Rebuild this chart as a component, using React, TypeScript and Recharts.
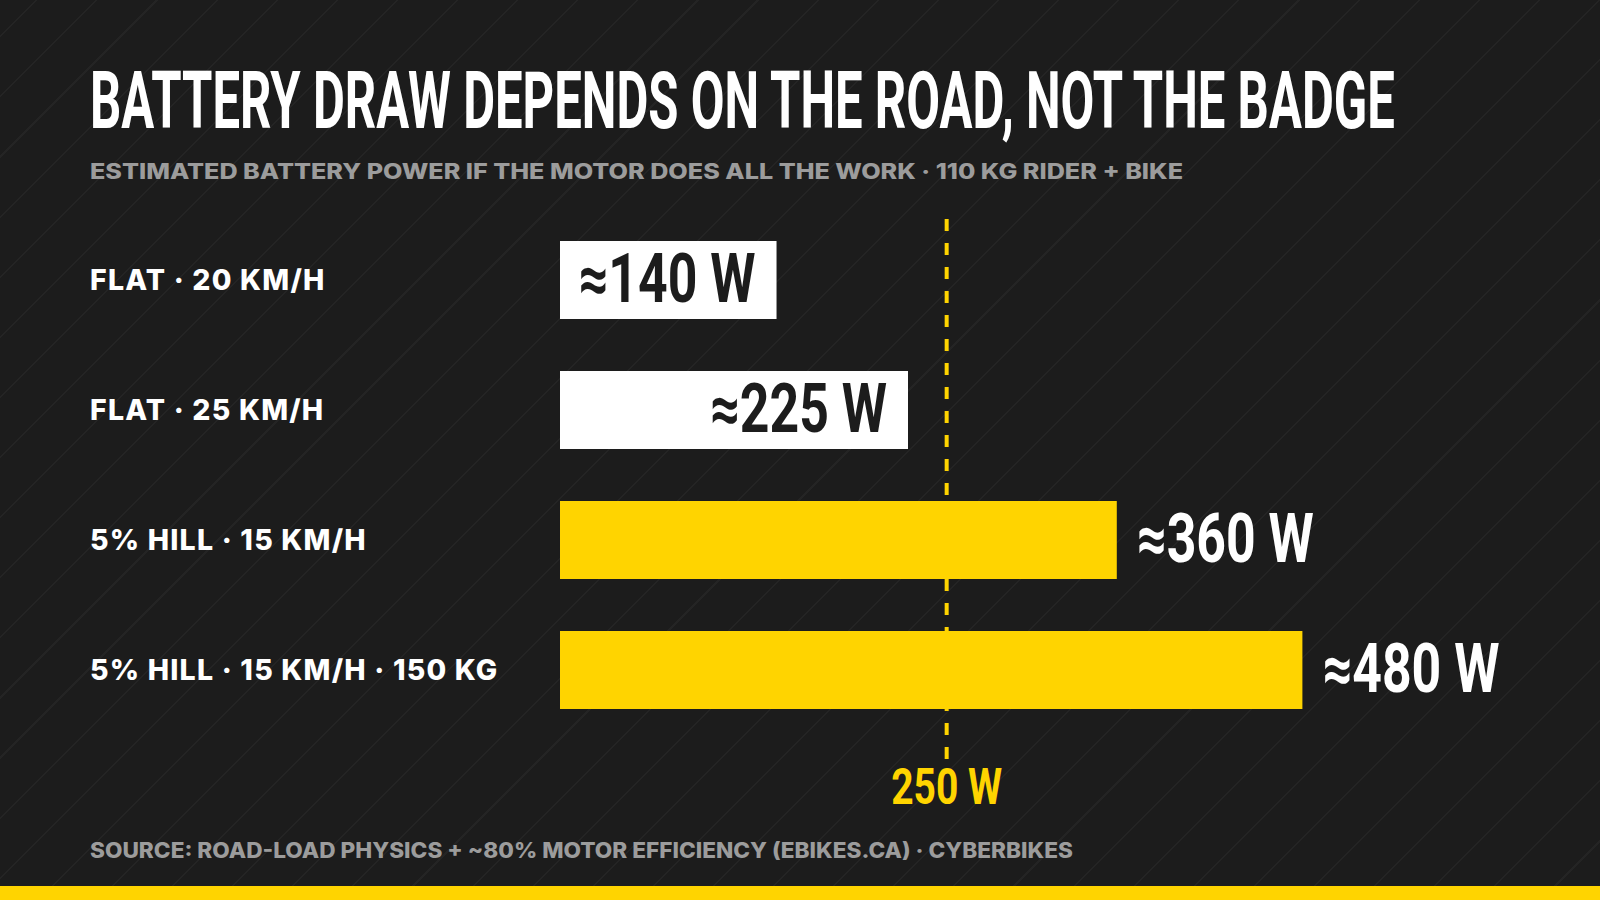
import { BarChart, Bar, XAxis, YAxis, Cell, LabelList, ReferenceLine } from "recharts"

const CATEGORIES = ["FLAT · 20 KM/H", "FLAT · 25 KM/H", "5% HILL · 15 KM/H", "5% HILL · 15 KM/H · 150 KG"]
const WATTS = [140, 225, 360, 480]
const LIMIT = 250
const X_DOMAIN = [0, 600]

const TITLE = "BATTERY DRAW DEPENDS ON THE ROAD, NOT THE BADGE"
const SUBTITLE = "ESTIMATED BATTERY POWER IF THE MOTOR DOES ALL THE WORK · 110 KG RIDER + BIKE"
const SOURCE = "SOURCE: ROAD-LOAD PHYSICS + ~80% MOTOR EFFICIENCY (EBIKES.CA) · CYBERBIKES"

const YELLOW = "#FFD400"
const BG = "#1c1c1c"
const GREY = "#9c9c9c"
const CONDENSED = "'Liberation Sans Narrow', Roboto, sans-serif"
const HEAVY = "Inter, 'Noto Sans', sans-serif"

const data = CATEGORIES.map((name, i) => ({ name, watts: WATTS[i] }))

function CategoryTick(props: any) {
  const { y, payload } = props
  return (
    <text x={90} y={y} dy={10} fill="#ffffff" fontFamily={HEAVY} fontWeight={800} fontSize={28.5} letterSpacing={1.2}>
      {payload.value}
    </text>
  )
}

function ValueLabel(props: any) {
  const { x, y, width, height, value } = props
  const end = x + width
  const cy = y + height / 2
  const over = value > LIMIT
  const tx = over ? end + 20 : end - 21
  return (
    <text
      transform={`translate(${tx},${cy + 22}) scale(0.75,1)`}
      textAnchor={over ? "start" : "end"}
      fill={over ? "#ffffff" : BG}
      fontFamily={CONDENSED}
      fontWeight={700}
      fontSize={69}
    >
      {`≈${value} W`}
    </text>
  )
}

function LimitLine(props: any) {
  const { x1, y1, y2 } = props
  const top = Math.min(y1, y2)
  const bottom = Math.max(y1, y2)
  return (
    <line x1={x1} x2={x1} y1={top + 4} y2={bottom + 25} stroke={YELLOW} strokeWidth={4} strokeDasharray="12 12" />
  )
}

function LimitLabel(props: any) {
  const { viewBox } = props
  return (
    <text
      x={viewBox.x}
      y={viewBox.y + viewBox.height + 69}
      textAnchor="middle"
      fill={YELLOW}
      fontFamily={CONDENSED}
      fontWeight={700}
      fontSize={50}
      textLength={111}
      lengthAdjust="spacingAndGlyphs"
    >
      {`${LIMIT} W`}
    </text>
  )
}

export default function App() {
  return (
    <div
      style={{
        position: "absolute",
        left: 0,
        top: 0,
        width: 1600,
        height: 900,
        overflow: "hidden",
        background: `repeating-linear-gradient(-45deg, ${BG} 0px, ${BG} 41px, #242424 41px, #242424 42.5px)`,
      }}
    >
      <svg width={1600} height={900} style={{ position: "absolute", left: 0, top: 0 }}>
        <text
          transform="translate(90,128) scale(0.69,1)"
          fill="#ffffff"
          fontFamily={CONDENSED}
          fontWeight={700}
          fontSize={79}
          textLength={1891}
          lengthAdjust="spacingAndGlyphs"
        >
          {TITLE}
        </text>
        <text x={90} y={179} fill={GREY} fontFamily={HEAVY} fontWeight={800} fontSize={21} textLength={1093} lengthAdjust="spacingAndGlyphs">
          {SUBTITLE}
        </text>
        <text x={90} y={858} fill={GREY} fontFamily={HEAVY} fontWeight={800} fontSize={21} textLength={983} lengthAdjust="spacingAndGlyphs">
          {SOURCE}
        </text>
        <rect x={0} y={886} width={1600} height={14} fill={YELLOW} />
      </svg>
      <div style={{ position: "absolute", left: 0, top: 0 }}>
        <BarChart
          width={1600}
          height={900}
          data={data}
          layout="vertical"
          margin={{ top: 215, right: 112, bottom: 165, left: 0 }}
        >
          <XAxis type="number" domain={X_DOMAIN} hide />
          <YAxis
            type="category"
            dataKey="name"
            width={560}
            axisLine={false}
            tickLine={false}
            tick={<CategoryTick />}
          />
          <ReferenceLine x={LIMIT} shape={<LimitLine />} label={<LimitLabel />} ifOverflow="visible" />
          <Bar dataKey="watts" barSize={78} isAnimationActive={false}>
            {data.map((d, i) => (
              <Cell key={`c-${i}`} fill={d.watts > LIMIT ? YELLOW : "#ffffff"} />
            ))}
            <LabelList dataKey="watts" content={<ValueLabel />} />
          </Bar>
        </BarChart>
      </div>
    </div>
  )
}
